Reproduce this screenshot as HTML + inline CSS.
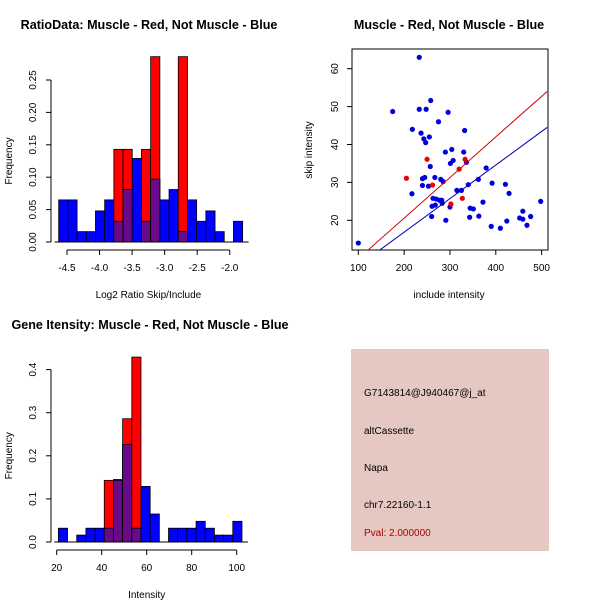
<!DOCTYPE html>
<html><head><meta charset="utf-8"><style>
html,body{margin:0;padding:0;background:#fff}
svg{display:block;font-family:"Liberation Sans",sans-serif}
</style></head><body>
<svg id="c" width="600" height="600" xmlns="http://www.w3.org/2000/svg">
<rect width="600" height="600" fill="#fff"/>
<text x="149" y="29" font-size="12.6" font-weight="bold" text-anchor="middle">RatioData: Muscle - Red, Not Muscle - Blue</text>
<text x="449" y="29" font-size="12.6" font-weight="bold" text-anchor="middle">Muscle - Red, Not Muscle - Blue</text>
<text x="150" y="329" font-size="12.6" font-weight="bold" text-anchor="middle">Gene Itensity: Muscle - Red, Not Muscle - Blue</text>
<g id="h1"></g>
<g id="sc"></g>
<g id="h2"></g>
<g>
<rect x="351" y="349" width="198" height="202" fill="#e6c8c2"/>
<text x="364" y="396" font-size="10">G7143814@J940467@j_at</text>
<text x="364" y="434" font-size="10">altCassette</text>
<text x="364" y="471" font-size="10">Napa</text>
<text x="364" y="508" font-size="10">chr7.22160-1.1</text>
<text x="364" y="536" font-size="10" fill="#aa0000">Pval: 2.000000</text>
</g>
</svg>
<script>
// Ratio histogram data
const h1Start = -4.628, h1Width = 0.1413;
const h1Blue = [0.065,0.065,0.016,0.016,0.048,0.065,0.032,0.081,0.129,0.032,0.097,0.065,0.081,0.016,0.065,0.032,0.048,0.016,0,0.032];
const h1Red  = [0,0,0,0,0,0,0.143,0.143,0,0.143,0.286,0,0,0.286,0,0,0,0,0,0];
const h1XTicks = [-4.5,-4.0,-3.5,-3.0,-2.5,-2.0];
const h1YTicks = [0,0.05,0.10,0.15,0.20,0.25];
// Intensity histogram data
const h2Start = 20.74, h2Width = 4.08;
const h2Blue = [0.032,0,0.016,0.032,0.032,0.032,0.145,0.226,0.032,0.129,0.065,0,0.032,0.032,0.032,0.048,0.032,0.016,0.016,0.048];
const h2Red  = [0,0,0,0,0,0.143,0.143,0.286,0.429,0,0,0,0,0,0,0,0,0,0,0];
const h2XTicks = [20,40,60,80,100];
const h2YTicks = [0,0.1,0.2,0.3,0.4];
// Scatter data
const blueInc = [100,175,217,218,233,233,237,240,240,243,245,247,248,253,255,257,258,260,261,263,267,268,270,275,277,280,282,283,285,290,291,296,300,301,304,307,315,325,330,332,336,340,343,344,351,362,363,372,379,390,392,410,421,424,429,452,459,459,468,476,498];
const blueSkip = [14,48.7,27,44,63,49.3,43,29.2,31,41.5,31.3,40.5,49.3,29,42,34.2,51.6,21,23.7,25.8,31.3,24,25.6,46,25.3,30.8,25.3,24.5,30.2,38,20,48.5,23.5,35,38.7,35.8,27.9,27.9,38,43.7,35.3,29.4,20.8,23.2,23,30.8,21.1,24.8,33.8,18.4,29.8,17.9,29.5,19.8,27.1,20.6,22.4,20.3,18.7,21,25];
const redInc = [205,250,262,302,320,327,333];
const redSkip = [31.1,36.1,29.3,24.3,33.5,25.8,36.1];
const redLine = [[120,12],[512,54]];
const blueLine = [[145,12],[512,44.5]];
const scXTicks = [100,200,300,400,500];
const scYTicks = [20,30,40,50,60];

const NS = "http://www.w3.org/2000/svg";
function mk(parent, tag, attrs, text){
  const e = document.createElementNS(NS, tag);
  for (const k in attrs) e.setAttribute(k, attrs[k]);
  if (text !== undefined) e.textContent = text;
  parent.appendChild(e);
  return e;
}
function hist(gid, start, w, blue, red, xt, yt, xs, ys, axY, axX, xlabel, fmtY, fmtX){
  const g = document.getElementById(gid);
  for (let i=0;i<blue.length;i++){
    const x0 = xs(start+i*w), x1 = xs(start+(i+1)*w);
    const b = blue[i], r = red[i];
    if (b>0){ const e = mk(g,'rect',{x:x0,y:ys(b),width:x1-x0,height:ys(0)-ys(b),fill:'#0000ff',stroke:'#000','stroke-width':0.8});
      
       }
    if (r>0){ const e = mk(g,'rect',{x:x0,y:ys(r),width:x1-x0,height:ys(0)-ys(r),fill:'#ff0000',stroke:'#000','stroke-width':0.8});
      
       }
    if (r>0 && b>0){ const m=Math.min(r,b); const e = mk(g,'rect',{x:x0,y:ys(m),width:x1-x0,height:ys(0)-ys(m),fill:'#6a0a8a',stroke:'#000','stroke-width':0.8});
      
       }
  }
  mk(g,'line',{x1:xs(start)-4,x2:xs(start+blue.length*w)+6,y1:ys(0),y2:ys(0),stroke:'#000'});
  mk(g,'line',{x1:axX,x2:axX,y1:ys(yt[0]),y2:ys(yt[yt.length-1]),stroke:'#000'});
  yt.forEach(v=>{ mk(g,'line',{x1:axX-5,x2:axX,y1:ys(v),y2:ys(v),stroke:'#000'});
    const t = mk(g,'text',{x:axX-15,y:ys(v),'font-size':10,'text-anchor':'middle',transform:`rotate(-90 ${axX-15} ${ys(v)})`},fmtY(v));
    
     });
  mk(g,'line',{x1:xs(xt[0]),x2:xs(xt[xt.length-1]),y1:axY,y2:axY,stroke:'#000'});
  xt.forEach(v=>{ mk(g,'line',{x1:xs(v),x2:xs(v),y1:axY,y2:axY+5,stroke:'#000'});
    const t = mk(g,'text',{x:xs(v),y:axY+21,'font-size':10,'text-anchor':'middle'},fmtX(v));
    
     });
  const xl = mk(g,'text',{x:(xs(xt[0])+xs(xt[xt.length-1]))/2,y:axY+48,'font-size':10,'text-anchor':'middle'},xlabel);
  
  
  const yc=(ys(yt[0])+ys(yt[yt.length-1]))/2;
  const yl = mk(g,'text',{x:12,y:yc,'font-size':10,'text-anchor':'middle',transform:`rotate(-90 12 ${yc})`},'Frequency');
  
  
}
const xs1 = v => 67 + (v+4.5)*65.1;
const ys1 = v => 242 - v*648;
hist('h1',h1Start,h1Width,h1Blue,h1Red,h1XTicks,h1YTicks,xs1,ys1,250,51,'Log2 Ratio Skip/Include',v=>v.toFixed(2),v=>v.toFixed(1));
const xs2 = v => 56.7 + (v-20)*2.25;
const ys2 = v => 542 - v*431;
hist('h2',h2Start,h2Width,h2Blue,h2Red,h2XTicks,h2YTicks,xs2,ys2,550,51,'Intensity',v=>v.toFixed(1),v=>String(v));

(function(){
  const g = document.getElementById('sc');
  const xs = v => 358.3 + (v-100)*0.4583;
  const ys = v => 220.3 - (v-20)*3.79;
  const L=352,R=548,T=49,B=250;
  mk(g,'rect',{x:L,y:T,width:R-L,height:B-T,fill:'none',stroke:'#000'});
  const cp = mk(g,'clipPath',{id:'scclip'}); mk(cp,'rect',{x:L,y:T,width:R-L,height:B-T});
  const inner = mk(g,'g',{'clip-path':'url(#scclip)'});
  for (let i=0;i<blueInc.length;i++){
    const c = mk(inner,'circle',{cx:xs(blueInc[i]),cy:ys(blueSkip[i]),r:2.6,fill:'#0000dd'});
    
    
  }
  for (let i=0;i<redInc.length;i++){
    const c = mk(inner,'circle',{cx:xs(redInc[i]),cy:ys(redSkip[i]),r:2.6,fill:'#ee0000'});
    
    
  }
  const rl = mk(inner,'line',{x1:xs(redLine[0][0]),y1:ys(redLine[0][1]),x2:xs(redLine[1][0]),y2:ys(redLine[1][1]),stroke:'#cc0000'});
  
  
  const bl = mk(inner,'line',{x1:xs(blueLine[0][0]),y1:ys(blueLine[0][1]),x2:xs(blueLine[1][0]),y2:ys(blueLine[1][1]),stroke:'#0000aa'});
  
  
  scXTicks.forEach(v=>{ mk(g,'line',{x1:xs(v),x2:xs(v),y1:B,y2:B+5,stroke:'#000'});
    const t = mk(g,'text',{x:xs(v),y:B+21,'font-size':10,'text-anchor':'middle'},String(v));
    
     });
  scYTicks.forEach(v=>{ mk(g,'line',{x1:L-5,x2:L,y1:ys(v),y2:ys(v),stroke:'#000'});
    const t = mk(g,'text',{x:L-14,y:ys(v),'font-size':10,'text-anchor':'middle',transform:`rotate(-90 ${L-14} ${ys(v)})`},String(v));
    
     });
  const xl = mk(g,'text',{x:449,y:298,'font-size':10,'text-anchor':'middle'},'include intensity');
  
  
  const yl = mk(g,'text',{x:312,y:150,'font-size':10,'text-anchor':'middle',transform:'rotate(-90 312 150)'},'skip intensity');
  
  
})();
</script>
</body></html>
